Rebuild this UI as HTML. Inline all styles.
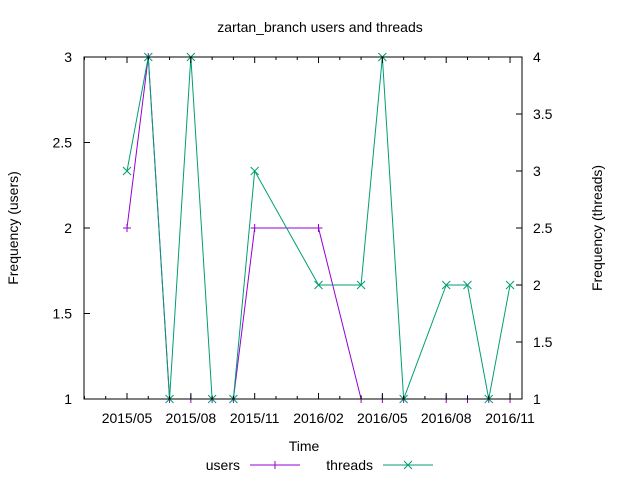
<!DOCTYPE html>
<html><head><meta charset="utf-8"><style>
body{margin:0;background:#fff}
svg{font-family:"Liberation Sans",sans-serif;font-size:14px}
</style></head><body>
<svg id="chart" width="640" height="480">
<text x="320" y="32" text-anchor="middle">zartan_branch users and threads</text>
<text transform="translate(18,228) rotate(-90)" text-anchor="middle">Frequency (users)</text>
<text transform="translate(602,228) rotate(-90)" text-anchor="middle">Frequency (threads)</text>
<text x="304" y="451" text-anchor="middle">Time</text>
<g id="series"></g>
<g id="axes"></g>
<rect x="84" y="57" width="438" height="342" fill="none" stroke="#000"/>
<g>
<text x="240" y="470" text-anchor="end">users</text>
<line x1="250" y1="465" x2="300" y2="465" stroke="#9400d3"/>
<path d="M271 465h8M275 461v8" stroke="#9400d3"/>
<text x="373" y="470" text-anchor="end">threads</text>
<line x1="383" y1="465" x2="433" y2="465" stroke="#009e73"/>
<path d="M404 461l8 8M404 469l8-8" stroke="#009e73"/>
</g>
</svg>
<script>
const months=[0,1,2,3,4,5,6,9,11,12,13,15,16,17,18];
const users=[2,3,1,1,1,1,2,2,1,1,1,1,1,1,1];
const threads=[3,4,1,4,1,1,3,2,2,4,1,2,2,1,2];
const xTickLabels=["2015/05","2015/08","2015/11","2016/02","2016/05","2016/08","2016/11"];
const xTickMonths=[0,3,6,9,12,15,18];
const yTicks=[1,1.5,2,2.5,3];
const y2Ticks=[1,1.5,2,2.5,3,3.5,4];
const ns="http://www.w3.org/2000/svg";
const L=84,R=522,T=57,B=399;
const xs=m=>127+m*21.28;
const yu=v=>B-(v-1)/2*(B-T);
const yt=v=>B-(v-1)/3*(B-T);
function mk(tag,at,parent){const e=document.createElementNS(ns,tag);for(const k in at)e.setAttribute(k,at[k]);parent.appendChild(e);return e;}
const ax=document.getElementById('axes'),se=document.getElementById('series');
yTicks.forEach(v=>{const y=yu(v);
 const t=mk('line',{x1:L,x2:L+6,y1:y,y2:y,stroke:'#000'},ax);
 
 
 const tx=mk('text',{x:L-12,y:y+5,'text-anchor':'end'},ax);tx.textContent=String(v);
 
 });
y2Ticks.forEach(v=>{const y=yt(v);
 const t=mk('line',{x1:R-6,x2:R,y1:y,y2:y,stroke:'#000'},ax);
 
 
 const tx=mk('text',{x:R+11,y:y+5},ax);tx.textContent=String(v);
 
 });
for(let m=-2;m<=18;m++){const x=xs(m);const major=xTickMonths.includes(m);const h=major?6:3;
 const t1=mk('line',{x1:x,x2:x,y1:B,y2:B-h,stroke:'#000'},ax);
 
 
 const t2=mk('line',{x1:x,x2:x,y1:T,y2:T+h,stroke:'#000'},ax);
 
 }
xTickLabels.forEach((s,i)=>{const tx=mk('text',{x:xs(xTickMonths[i]),y:423,'text-anchor':'middle'},ax);tx.textContent=s;
 
 });
function series(vals,yf,col,name,mark){
 const p=mk('polyline',{points:vals.map((v,i)=>xs(months[i])+','+yf(v)).join(' '),fill:'none',stroke:col},se);
 
 
 vals.forEach((v,i)=>{const x=xs(months[i]),y=yf(v);
  const d=mark==='+'?`M${x-4} ${y}h8M${x} ${y-4}v8`:`M${x-4} ${y-4}l8 8M${x-4} ${y+4}l8-8`;
  const m=mk('path',{d:d,stroke:col},se);
  
  });
}
series(users,yu,'#9400d3','users','+');
series(threads,yt,'#009e73','threads','x');
</script>
</body></html>
